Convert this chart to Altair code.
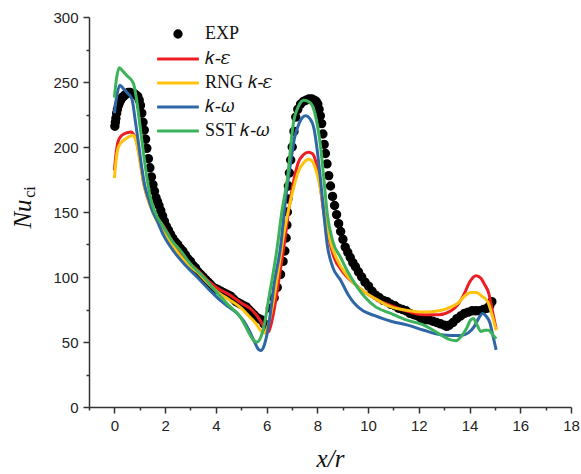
import altair as alt
import pandas as pd

# ---------------- data ----------------
exp_x = [0.02,0.04,0.06,0.09,0.12,0.16,0.2,0.25,0.3,0.36,0.42,0.48,0.55,0.62,0.7,0.78,0.85,0.92,0.98,
         1.03,1.08,1.13,1.18,1.23,1.28,1.34,1.4,1.46,1.52,1.58,1.64,1.7,1.76,1.83,1.9,1.97,2.05,2.13,2.21,
         2.3,2.4,2.5,2.6,2.7,2.8,2.9,3.0,3.1,3.2,3.3,3.4,3.5,3.6,3.7,3.8,3.9,4.0,4.1,4.2,4.3,4.4,4.5,4.6,
         4.7,4.8,4.9,5.0,5.1,5.2,5.3,5.4,5.5,5.6,5.7,5.8,5.9,6.0,6.15,6.3,6.42,6.55,6.65,6.72,6.77,6.8,
         6.82,6.84,6.86,6.9,6.95,7.01,7.08,7.15,7.23,7.34,7.45,7.56,7.67,7.78,7.88,7.96,8.02,8.07,8.12,
         8.17,8.22,8.27,8.32,8.38,8.45,8.52,8.6,8.68,8.76,8.84,8.92,9.01,9.1,9.2,9.3,9.4,9.5,9.62,9.75,
         9.88,10.02,10.16,10.3,10.45,10.6,10.75,10.9,11.05,11.2,11.35,11.5,11.65,11.8,11.95,12.1,12.25,
         12.4,12.55,12.7,12.85,13.0,13.1,13.2,13.35,13.5,13.65,13.8,13.95,14.1,14.25,14.4,14.55,14.7,
         14.8,14.88]
exp_y = [216,219,222,226,229,232,234,236,238,239,240,241,242,242,241,241,240,239,236,
         232,226,219,213,206,199,191,184,177,171,166,161,158,155,151,147,143,139,136,133,
         130,127,125,122,120,117,114,112,109,107,104,102,100,98,96,94,92,91,90,89,88,87,86,85,
         83,81,80,79,78,77,75,73,71,69,68,67,64,63,76,84,92,102,112,120,130,140,
         150,160,170,180,190,200,212,223,229,233,235,236,237,237,236,235,233,229,224,
         218,210,202,195,187,178,170,162,155,148,141,135,129,123,119,115,111,108,104,100,
         96,93,89,86,84,82,81,79,78,76,75,74,72,71,70,68,67,
         67,66,65,64,63,62,63,65,68,70,72,73,74,74,74,75,76,
         78,81]

ke_x = [0.0,0.08,0.16,0.3,0.5,0.65,0.78,0.88,0.96,1.04,1.14,1.26,1.4,1.6,1.94,2.3,2.6,3.0,3.3,3.7,4.1,
        4.57,5.0,5.4,5.63,5.85,5.98,6.08,6.3,6.5,6.68,6.88,7.07,7.25,7.45,7.65,7.8,7.95,8.1,8.26,8.45,
        8.66,9.0,9.45,9.9,10.4,10.9,11.5,12.2,12.8,13.27,13.55,13.79,14.0,14.26,14.45,14.6,14.75,14.9,15.05]
ke_y = [182,197,205,209,211,211.5,209,204,196,187,174,164,156,148,139,127,119,110,105,97,91,
        86,80,75,70,63,57,58,75,100,123,152,174,188,194,196,195,188,172,149,130,
        115,104,95,88,82,78,74,71,71,74,79,87,96,101,99,94,88,74,60]

rng_x = [0.0,0.08,0.16,0.3,0.5,0.75,0.85,0.95,1.05,1.19,1.34,1.55,1.81,2.2,2.6,3.0,3.26,3.7,4.1,4.57,
         5.0,5.3,5.55,5.76,5.9,6.05,6.3,6.5,6.68,6.88,7.07,7.25,7.47,7.65,7.8,7.95,8.1,8.33,8.55,8.79,
         9.1,9.45,9.9,10.4,10.9,11.5,12.2,12.8,13.27,13.55,13.79,14.05,14.26,14.5,14.72,14.9,15.05]
rng_y = [176,192,200,204,207,209,205,196,184,169,159,148,138.5,127,116,108,104,95,88,82,
         76,70,65,59,57,62,85,110,133,153,169,181,188,190.5,189,182,170,144,125,113,
         103,95,88,82,77,74.5,73,74,77,80,85,88,88,85,81,70,59]

kw_x = [0.0,0.1,0.22,0.35,0.49,0.69,0.82,0.95,1.08,1.2,1.35,1.5,1.68,1.94,2.33,2.8,3.26,3.7,4.18,4.5,
        4.84,5.1,5.36,5.55,5.7,5.78,5.88,5.96,6.1,6.3,6.55,6.75,6.94,7.1,7.3,7.54,7.7,7.87,8.0,8.13,
        8.26,8.39,8.6,8.92,9.2,9.45,9.8,10.24,10.9,11.56,12.2,12.87,13.3,13.66,13.95,14.19,14.38,14.52,
        14.65,14.8,14.92,15.05]
kw_y = [226,240,247.5,245,242,237,221,203,184,170,160,151,143.6,132,120,109,100,91,82,77,
        72,66,57,49,44,43.5,46,51,65,95,123,160,187,207,219,224,222,214,197,174,
        148,125,108,97.5,87,80,74,70.5,66,63,59,55.5,55,55,57,62,69,72,
        70,65,55,44]

sst_x = [0.0,0.08,0.19,0.35,0.49,0.75,0.88,1.02,1.15,1.28,1.41,1.6,1.94,2.3,2.6,3.0,3.52,4.0,4.44,4.97,
         5.2,5.36,5.5,5.63,5.78,5.89,6.1,6.42,6.6,6.81,7.07,7.25,7.47,7.65,7.8,7.95,8.13,8.26,8.39,8.6,
         8.92,9.2,9.58,9.9,10.3,10.9,11.5,12.2,12.87,13.2,13.47,13.7,13.87,14.05,14.15,14.3,14.45,14.6,
         14.75,14.9,15.05]
sst_y = [238,252,261,258,255,249,236,215,195,177,162,150,138.5,127,120.5,110,100,89,79.5,69,
         61,55,51,50,54,61.5,85,123,150,174,220,231,236,235,232,222,200,175,149,128,
         115,104,92,84,77,72,67,63,55.5,52,51,55,60,67,68,63,58,59,
         59,56,52.5]

models = ["EXP", "k-ε", "RNG k-ε", "k-ω", "SST k-ω"]
legend_labels = ["EXP", "𝑘-𝜀", "RNG 𝑘-𝜀", "𝑘-𝜔", "SST 𝑘-𝜔"]
colors = ["#000000", "#ee1d23", "#ffc20e", "#2f67a6", "#3cb35a"]

exp_df = pd.DataFrame({"x": exp_x, "y": exp_y, "model": legend_labels[0]})
series = [(ke_x, ke_y), (rng_x, rng_y), (kw_x, kw_y), (sst_x, sst_y)]

# ---------------- scales / axes ----------------
xscale = alt.Scale(domain=[-1, 18], nice=False, zero=False)
yscale = alt.Scale(domain=[0, 300], nice=False, zero=False)

common_axis = dict(grid=False, labelFont="Liberation Sans", labelFontSize=15, labelColor="#222222",
                   domainColor="#333333", domainWidth=1.5, tickColor="#333333", tickWidth=1.5,
                   labelOverlap=False, labelFlush=False)

xaxis = alt.Axis(values=list(range(-1, 19)),
                 labelExpr="datum.value % 2 === 0 ? datum.label : ''",
                 tickSize={"condition": {"test": "datum.value % 2 === 0", "value": 6}, "value": 3},
                 labelPadding=5, title="x/r", titleFont="Liberation Serif", titleFontStyle="italic",
                 titleFontWeight="normal", titleFontSize=25, titleColor="#111111", titlePadding=13,
                 **common_axis)
yaxis = alt.Axis(values=list(range(0, 301, 25)),
                 labelExpr="datum.value % 50 === 0 ? datum.label : ''",
                 tickSize={"condition": {"test": "datum.value % 50 === 0", "value": 6}, "value": 3},
                 labelPadding=5, title=None, **common_axis)

legend = alt.Legend(orient="none", legendX=80, legendY=8, title=None,
                    labelFont="Liberation Serif", labelFontSize=18, labelColor="#111111",
                    symbolSize=40, symbolStrokeWidth=3, labelOffset=18, rowPadding=6,
                    padding=0, symbolOpacity=1)

line_path = "M-6.6,0H6.6"
pts = alt.Chart(exp_df).mark_point(filled=True, opacity=1, size=55).encode(
    x=alt.X("x:Q", scale=xscale, axis=xaxis),
    y=alt.Y("y:Q", scale=yscale, axis=yaxis),
    fill=alt.Fill("model:N", scale=alt.Scale(domain=legend_labels, range=colors), legend=legend),
    stroke=alt.Stroke("model:N", scale=alt.Scale(domain=legend_labels, range=colors), legend=legend),
    shape=alt.Shape("model:N", scale=alt.Scale(domain=legend_labels,
                                               range=["circle", line_path, line_path, line_path, line_path]),
                    legend=legend),
)

layers = [pts]
for (sx, sy), name, col in zip(series, legend_labels[1:], colors[1:]):
    df = pd.DataFrame({"x": sx, "y": sy})
    layers.append(
        alt.Chart(df).mark_line(strokeWidth=3, interpolate="monotone", color=col).encode(
            x=alt.X("x:Q", scale=xscale, axis=xaxis),
            y=alt.Y("y:Q", scale=yscale, axis=yaxis),
        )
    )

ytitle_main = pd.DataFrame({"t": ["Nu"]})
ytitle_sub = pd.DataFrame({"t": ["ci"]})
t1 = alt.Chart(ytitle_main).mark_text(angle=270, font="Liberation Serif", fontStyle="italic",
                                      fontSize=25, color="#111111", align="center", baseline="middle").encode(
    x=alt.value(-66), y=alt.value(197), text="t:N")
t2 = alt.Chart(ytitle_sub).mark_text(angle=270, font="Liberation Serif", fontSize=16, color="#111111",
                                     align="center", baseline="middle").encode(
    x=alt.value(-59), y=alt.value(175), text="t:N")
layers += [t1, t2]

chart = alt.layer(*layers).properties(
    width=482, height=390,
    autosize=alt.AutoSizeParams(type="none"),
    padding={"left": 89, "top": 17, "right": 10, "bottom": 67},
    background="white",
).configure_view(stroke=None)

chart.save("out.html", embed_options={"renderer": "svg", "actions": False})
